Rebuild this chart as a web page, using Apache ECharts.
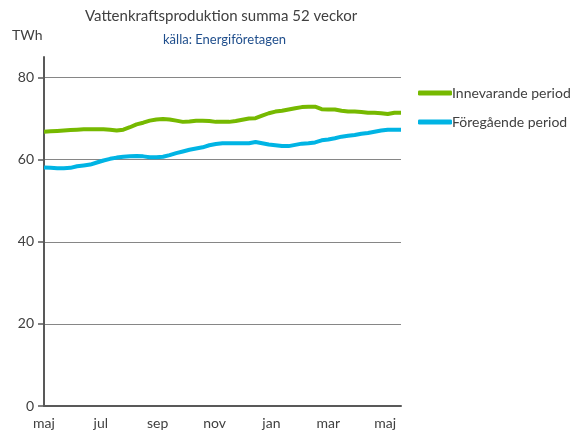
<!DOCTYPE html>
<html><head><meta charset="utf-8">
<script src="https://cdn.jsdelivr.net/npm/echarts@6/dist/echarts.min.js"></script>
<style>html,body{margin:0;padding:0;background:#fff}#c{width:574px;height:438px}</style>
</head><body><div id="c"></div>
<script>
var monthLabels = ['maj','jul','sep','nov','jan','mar','maj'];
var yTicks = [0,20,40,60,80];
var seriesNames = ['Innevarande period','Föregående period'];
var current = [66.8,66.9,67.0,67.1,67.2,67.3,67.4,67.4,67.4,67.4,67.3,67.1,67.3,67.9,68.6,69.0,69.5,69.8,69.9,69.8,69.5,69.2,69.3,69.5,69.5,69.4,69.2,69.2,69.2,69.4,69.7,70.0,70.1,70.7,71.3,71.7,71.9,72.2,72.5,72.8,72.9,72.9,72.3,72.2,72.2,71.9,71.7,71.7,71.6,71.4,71.4,71.3,71.1,71.4,71.4];
var previous = [58.1,58.0,57.9,57.9,58.0,58.4,58.6,58.8,59.3,59.8,60.2,60.5,60.7,60.8,60.9,60.8,60.6,60.6,60.7,61.1,61.6,62.0,62.4,62.7,63.0,63.5,63.8,64.0,64.0,64.0,64.0,64.0,64.3,64.0,63.7,63.5,63.3,63.3,63.6,63.9,64.0,64.2,64.7,64.9,65.2,65.6,65.8,66.0,66.3,66.5,66.8,67.1,67.3,67.3,67.3];

var FONT = 'Lato';
var labelStep = 8.6;
function pairs(arr){ return arr.map(function(v,i){ return [i, v]; }); }

var chart = echarts.init(document.getElementById('c'), null, {renderer:'canvas'});
chart.setOption({
  animation:false,
  textStyle:{fontFamily:FONT},
  title:[
    {text:'Vattenkraftsproduktion summa 52 veckor', left:80, top:4,
     textStyle:{fontFamily:FONT, fontSize:15, fontWeight:'normal', color:'#404040'}},
    {text:'källa: Energiföretagen', left:158, top:28,
     textStyle:{fontFamily:FONT, fontSize:13, fontWeight:'normal', color:'#1f4e8c'}}
  ],
  graphic:[{type:'text', left:12, top:28, style:{text:'TWh', font:'14px '+FONT, fill:'#404040'}}],
  legend:{
    orient:'vertical', left:413, top:81, itemGap:15, itemWidth:34, itemHeight:5,
    icon:'roundRect',
    textStyle:{fontFamily:FONT, fontSize:14, color:'#404040', padding:[0,0,0,-5]},
    data:seriesNames
  },
  grid:{left:44, right:173, top:57, bottom:32},
  xAxis:{
    type:'value', min:0, max:current.length-1, interval:labelStep,
    axisLine:{show:true, onZero:false, lineStyle:{color:'#595959', width:2}},
    axisTick:{show:false},
    splitLine:{show:false},
    axisLabel:{color:'#404040', fontSize:14, fontFamily:FONT, margin:10, showMaxLabel:false,
      formatter:function(v){ var k=Math.round(v/labelStep); return Math.abs(v-k*labelStep)<0.01 ? (monthLabels[k]||'') : ''; }}
  },
  yAxis:{
    type:'value', min:0, max:85, interval:20,
    axisLine:{show:true, lineStyle:{color:'#595959', width:2}},
    axisTick:{show:true, length:6, customValues:yTicks, lineStyle:{color:'#595959', width:1.5}},
    splitLine:{show:true, lineStyle:{color:['#868686','#868686','#868686','#868686','#868686','rgba(0,0,0,0)'], width:1}},
    axisLabel:{color:'#404040', fontSize:14, fontFamily:FONT, margin:10,
      formatter:function(v){ return v % 20 === 0 ? String(v) : ''; }}
  },
  series:[
    {name:seriesNames[0], type:'line', data:pairs(current), showSymbol:false, symbol:'none',
     lineStyle:{color:'#76b900', width:4}, itemStyle:{color:'#76b900'}},
    {name:seriesNames[1], type:'line', data:pairs(previous), showSymbol:false, symbol:'none',
     lineStyle:{color:'#00b4e4', width:4}, itemStyle:{color:'#00b4e4'}}
  ]
});
</script></body></html>
